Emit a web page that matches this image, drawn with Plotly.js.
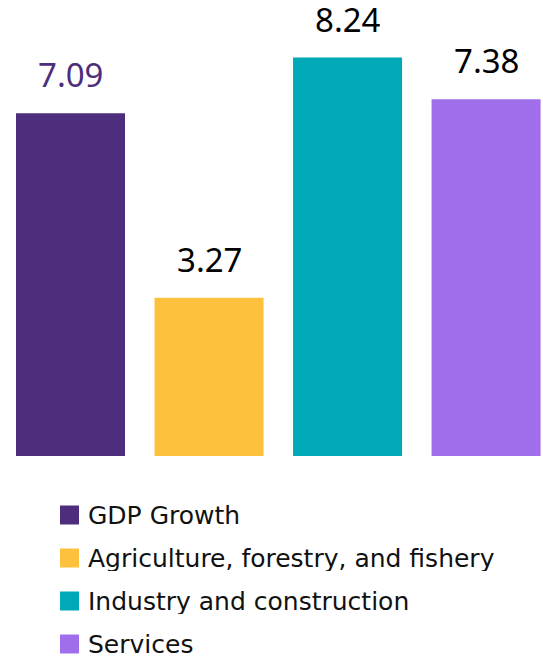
<!DOCTYPE html>
<html>
<head>
<meta charset="utf-8">
<script src="https://cdn.plot.ly/plotly-3.0.1.min.js"></script>
<style>html,body{margin:0;padding:0;background:#fff;}#chart{width:543px;height:656px;}</style>
</head>
<body>
<div id="chart"></div>
<script>
var categories = ["GDP Growth", "Agriculture, forestry, and fishery", "Industry and construction", "Services"];
var values = [7.09, 3.27, 8.24, 7.38];
var barColors = ["#4E2E7C", "#FEC13E", "#00A9B7", "#A06EEA"];
var labelColors = ["#4E2E7C", "#000000", "#000000", "#000000"];
var valueLabels = ["7.09", "3.27", "8.24", "7.38"];

var FONT = "'Noto Sans', 'Open Sans', sans-serif";
var LEGFONT = "'DejaVu Sans', 'Noto Sans', sans-serif";

var trace = {
  type: "bar",
  x: categories,
  y: values,
  marker: {color: barColors},
  hoverinfo: "none",
  showlegend: false
};

var annotations = [];
var shapes = [];
for (var i = 0; i < categories.length; i++) {
  annotations.push({
    x: categories[i], y: values[i], xref: "x", yref: "y",
    text: valueLabels[i], showarrow: false,
    yanchor: "bottom", yshift: 22, height: 30, valign: "middle",
    font: {family: FONT, size: 33, color: labelColors[i]}
  });
}
// legend in pixel space converted to paper coordinates (plot area: top 0, height 456)
for (var j = 0; j < categories.length; j++) {
  var yc = 515 + 43 * j;
  shapes.push({
    type: "rect", xref: "paper", yref: "paper",
    x0: 60 / 543, x1: 79 / 543,
    y0: (456 - (yc + 9.5)) / 456, y1: (456 - (yc - 9.5)) / 456,
    line: {width: 0}, fillcolor: barColors[j]
  });
  annotations.push({
    x: 86 / 543, y: (456 - yc) / 456, xref: "paper", yref: "paper",
    xanchor: "left", yanchor: "middle", showarrow: false,
    height: 26, valign: "middle",
    text: categories[j],
    font: {family: LEGFONT, size: 25, color: "#111111"}
  });
}

var layout = {
  width: 543, height: 656,
  margin: {l: 0, r: 0, t: 0, b: 200, pad: 0},
  paper_bgcolor: "#ffffff", plot_bgcolor: "#ffffff",
  bargap: 0.213,
  xaxis: {range: [-0.509, 3.411], showticklabels: false, showgrid: false, zeroline: false, showline: false, ticks: "", fixedrange: true},
  yaxis: {range: [0, 9.43], showticklabels: false, showgrid: false, zeroline: false, showline: false, ticks: "", fixedrange: true},
  annotations: annotations,
  shapes: shapes,
  showlegend: false
};

Plotly.newPlot("chart", [trace], layout, {displayModeBar: false, staticPlot: true});
</script>
</body>
</html>
